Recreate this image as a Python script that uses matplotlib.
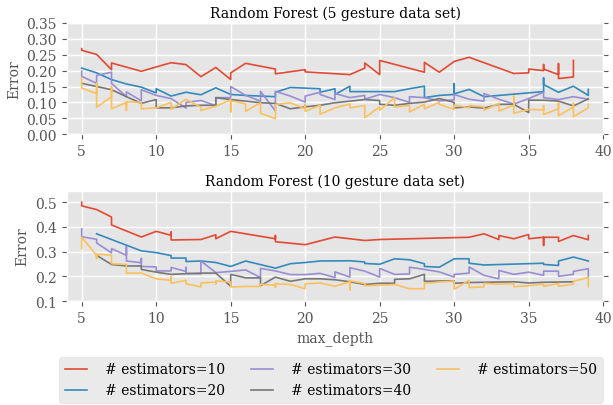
import matplotlib
matplotlib.use("Agg")
import matplotlib.pyplot as plt

plt.style.use("ggplot")
plt.rcParams["font.family"] = ["DejaVu Serif"]
plt.rcParams["font.size"] = 10

labels = ["# estimators=10", "# estimators=20", "# estimators=30",
          "# estimators=40", "# estimators=50"]
colors = ["#E24A33", "#348ABD", "#988ED5", "#777777", "#FBC15E"]

# ---------------- 5 gesture data set ----------------
t10_x = [5, 5, 6, 7, 7, 9, 11, 12, 13, 14, 15, 15, 16, 18, 18, 20, 20, 23, 24, 24, 25, 25,
         28, 28, 29, 30, 31, 34, 35, 35, 36, 36, 36, 37, 37, 37, 38, 38]
t10_y = [0.269, 0.264, 0.251, 0.203, 0.224, 0.198, 0.225, 0.219, 0.181, 0.210, 0.172, 0.193,
         0.223, 0.205, 0.190, 0.203, 0.196, 0.1875, 0.208, 0.224, 0.1875, 0.232,
         0.195, 0.226, 0.195, 0.229, 0.242, 0.191, 0.193, 0.205, 0.200, 0.219, 0.205,
         0.1875, 0.222, 0.175, 0.180, 0.232]

t20_x = [5, 6, 7, 8, 9, 10, 10, 11, 12, 13, 14, 15, 16, 18, 18, 19, 21, 21, 22, 22, 23, 23,
         26, 27, 28, 28, 29, 30, 30, 30, 31, 32, 34, 36, 36, 36, 37, 38, 39, 39]
t20_y = [0.208, 0.193, 0.172, 0.158, 0.148, 0.130, 0.143, 0.120, 0.132, 0.124, 0.146, 0.125,
         0.122, 0.118, 0.132, 0.147, 0.143, 0.132, 0.143, 0.125, 0.151, 0.134,
         0.134, 0.143, 0.151, 0.115, 0.122, 0.125, 0.159, 0.127, 0.141, 0.118, 0.126,
         0.134, 0.177, 0.156, 0.132, 0.151, 0.122, 0.141]

t30_x = [5, 5, 6, 6, 7, 7, 8, 8, 9, 9, 10, 11, 12, 12, 13, 14, 14, 15, 15, 16, 17, 17, 18, 18,
         19, 20, 20, 21, 21, 22, 22, 23, 24, 24, 25, 26, 27, 27, 28, 29, 30, 30, 31, 32, 32,
         33, 34, 35, 36, 36, 37, 38, 39]
t30_y = [0.198, 0.182, 0.160, 0.185, 0.195, 0.160, 0.118, 0.133, 0.105, 0.140, 0.122, 0.112,
         0.082, 0.100, 0.106, 0.090, 0.115, 0.115, 0.150, 0.122, 0.104, 0.135, 0.073, 0.135,
         0.120, 0.101, 0.120, 0.132, 0.125, 0.109, 0.128, 0.115, 0.122, 0.110, 0.125, 0.115,
         0.100, 0.118, 0.115, 0.105, 0.108, 0.125, 0.110, 0.104, 0.128, 0.110, 0.095, 0.112,
         0.132, 0.115, 0.109, 0.118, 0.110]

t40_x = [5, 6, 7, 8, 9, 10, 10, 11, 12, 13, 14, 14, 15, 16, 17, 18, 19, 20, 21, 22, 23, 24,
         25, 25, 26, 27, 28, 29, 30, 30, 31, 32, 33, 34, 35, 35, 36, 37, 38, 39]
t40_y = [0.160, 0.150, 0.140, 0.118, 0.097, 0.109, 0.083, 0.083, 0.089, 0.091, 0.091, 0.115,
         0.109, 0.104, 0.099, 0.097, 0.080, 0.086, 0.091, 0.099, 0.104, 0.109,
         0.106, 0.094, 0.091, 0.097, 0.101, 0.112, 0.100, 0.083, 0.086, 0.082, 0.094,
         0.094, 0.068, 0.107, 0.107, 0.104, 0.089, 0.111]

t50_x = [5, 5, 6, 6, 6, 7, 7, 7, 8, 8, 8, 9, 9, 10, 11, 11, 12, 13, 13, 14, 15, 15, 15, 16, 16,
         17, 17, 18, 18, 19, 20, 20, 20, 21, 21, 22, 23, 23, 24, 24, 25, 25, 26, 26, 27, 27,
         28, 28, 29, 29, 30, 30, 31, 31, 32, 32, 33, 33, 34, 34, 34, 35, 36, 36, 36, 37, 37,
         37, 38, 38, 38, 39, 39]
t50_y = [0.178, 0.145, 0.128, 0.160, 0.085, 0.118, 0.150, 0.080, 0.100, 0.075, 0.102, 0.100,
         0.080, 0.083, 0.100, 0.078, 0.110, 0.085, 0.075, 0.088, 0.108, 0.070, 0.105, 0.096,
         0.072, 0.099, 0.066, 0.049, 0.094, 0.099, 0.080, 0.094, 0.072, 0.091, 0.063, 0.083,
         0.095, 0.083, 0.090, 0.052, 0.086, 0.075, 0.115, 0.086, 0.090, 0.070, 0.094, 0.080,
         0.100, 0.094, 0.078, 0.092, 0.083, 0.090, 0.086, 0.075, 0.097, 0.073, 0.091, 0.120,
         0.066, 0.078, 0.076, 0.090, 0.062, 0.080, 0.098, 0.058, 0.086, 0.098, 0.055, 0.083,
         0.094]

# ---------------- 10 gesture data set ----------------
b10_x = [5, 5, 6, 7, 7, 9, 10, 11, 11, 11, 13, 14, 14, 15, 18, 18, 18, 20, 22, 24, 25, 31,
         32, 33, 33, 34, 35, 35, 36, 36, 36, 37, 37, 38, 39, 39]
b10_y = [0.500, 0.485, 0.470, 0.440, 0.408, 0.359, 0.382, 0.366, 0.379, 0.347, 0.349, 0.368,
         0.352, 0.382, 0.352, 0.365, 0.340, 0.328, 0.359, 0.345, 0.349, 0.358,
         0.372, 0.349, 0.365, 0.352, 0.369, 0.352, 0.358, 0.325, 0.358, 0.358, 0.341,
         0.365, 0.348, 0.365]

b20_x = [6, 9, 10, 11, 11, 12, 12, 13, 14, 15, 16, 18, 19, 20, 21, 23, 24, 24, 25, 26, 27,
         28, 28, 29, 30, 31, 31, 32, 36, 36, 37, 37, 38, 39]
b20_y = [0.372, 0.303, 0.296, 0.284, 0.274, 0.274, 0.260, 0.262, 0.256, 0.240, 0.262, 0.233,
         0.251, 0.256, 0.262, 0.263, 0.258, 0.252, 0.249, 0.271, 0.267,
         0.251, 0.240, 0.237, 0.271, 0.271, 0.253, 0.246, 0.253, 0.248, 0.244, 0.262,
         0.278, 0.262]

b30_x = [5, 5, 6, 6, 7, 7, 8, 8, 8, 9, 9, 9, 10, 10, 11, 11, 12, 12, 12, 13, 13, 14, 15, 16,
         17, 17, 18, 19, 20, 21, 22, 22, 23, 23, 24, 25, 25, 26, 27, 27, 28, 29, 30, 30, 31,
         31, 32, 33, 33, 34, 35, 36, 36, 37, 37, 38, 38, 39, 39]
b30_y = [0.392, 0.360, 0.350, 0.335, 0.295, 0.312, 0.285, 0.320, 0.262, 0.255, 0.272, 0.240,
         0.238, 0.222, 0.222, 0.236, 0.220, 0.236, 0.212, 0.210, 0.262, 0.215, 0.220, 0.226,
         0.195, 0.232, 0.222, 0.207, 0.207, 0.212, 0.195, 0.218, 0.197, 0.235, 0.221, 0.197,
         0.232, 0.208, 0.210, 0.237, 0.228, 0.218, 0.197, 0.208, 0.213, 0.238, 0.204, 0.190,
         0.224, 0.208, 0.217, 0.204, 0.221, 0.221, 0.200, 0.208, 0.220, 0.231, 0.200]

b40_x = [6, 7, 8, 9, 9, 10, 11, 13, 14, 15, 15, 16, 17, 17, 18, 19, 20, 21, 22, 23, 24, 25,
         26, 26, 27, 28, 28, 30, 30, 31, 34, 35, 36, 38]
b40_y = [0.285, 0.248, 0.242, 0.242, 0.228, 0.217, 0.208, 0.213, 0.213, 0.160, 0.208, 0.194,
         0.194, 0.162, 0.197, 0.180, 0.190, 0.190, 0.186, 0.178, 0.167, 0.172,
         0.172, 0.188, 0.190, 0.208, 0.180, 0.182, 0.172, 0.175, 0.178, 0.173, 0.176,
         0.178]

b50_x = [5, 5, 6, 6, 6, 7, 7, 8, 8, 9, 10, 11, 11, 11, 12, 12, 13, 13, 14, 14, 14, 15, 15, 16,
         17, 17, 18, 18, 18, 19, 20, 20, 21, 22, 23, 23, 23, 24, 24, 25, 26, 27, 28, 28, 29,
         30, 30, 31, 31, 32, 32, 33, 34, 34, 35, 36, 36, 37, 37, 38, 38, 39, 39]
b50_y = [0.312, 0.358, 0.285, 0.272, 0.290, 0.285, 0.251, 0.248, 0.213, 0.213, 0.190, 0.184,
         0.198, 0.172, 0.184, 0.170, 0.157, 0.173, 0.177, 0.170, 0.182, 0.177, 0.157, 0.159,
         0.159, 0.168, 0.164, 0.156, 0.170, 0.167, 0.150, 0.170, 0.173, 0.160, 0.178, 0.145,
         0.182, 0.171, 0.162, 0.164, 0.167, 0.150, 0.150, 0.172, 0.177, 0.181, 0.148, 0.184,
         0.155, 0.157, 0.172, 0.168, 0.171, 0.158, 0.162, 0.168, 0.160, 0.171, 0.160, 0.168,
         0.180, 0.195, 0.158]

top = [(t10_x, t10_y), (t20_x, t20_y), (t30_x, t30_y), (t40_x, t40_y), (t50_x, t50_y)]
bot = [(b10_x, b10_y), (b20_x, b20_y), (b30_x, b30_y), (b40_x, b40_y), (b50_x, b50_y)]

fig = plt.figure(figsize=(6.13, 4.06), dpi=100)
ax1 = fig.add_axes([0.109, 0.667, 0.875, 0.274])
ax2 = fig.add_axes([0.109, 0.256, 0.875, 0.271])

handles = []
for ax, series in ((ax1, top), (ax2, bot)):
    for (xs, ys), c, lab in zip(series, colors, labels):
        h, = ax.plot(xs, ys, color=c, lw=1.2, label=lab)
        if ax is ax1:
            handles.append(h)
    ax.set_xlim(4, 40)
    ax.set_xticks([5, 10, 15, 20, 25, 30, 35, 40])
    ax.set_ylabel("Error", fontsize=10, color="#555555")
    ax.tick_params(labelsize=10, colors="#555555", right=True)
    ax.grid(True, color="white", lw=1)

ax1.set_ylim(0, 0.35)
ax1.set_yticks([0.0, 0.05, 0.10, 0.15, 0.20, 0.25, 0.30, 0.35])
ax1.set_yticklabels(["0.00", "0.05", "0.10", "0.15", "0.20", "0.25", "0.30", "0.35"])
ax1.set_title("Random Forest (5 gesture data set)", fontsize=10, color="black", pad=4)

ax2.set_ylim(0.1, 0.545)
ax2.set_yticks([0.1, 0.2, 0.3, 0.4, 0.5])
ax2.set_title("Random Forest (10 gesture data set)", fontsize=10, color="black", pad=4)
ax2.set_xlabel("max_depth", fontsize=10, color="#555555")

fig.legend(handles=handles, labels=labels, ncol=3, loc="lower left",
           bbox_to_anchor=(0.097, 0.005, 0.886, 0.104), mode="expand",
           fontsize=10, frameon=True, facecolor="#E5E5E5", edgecolor="#DDDDDD",
           borderaxespad=0, handlelength=1.6, handletextpad=1.3, columnspacing=1.5)

fig.savefig("out.png", dpi=100)
